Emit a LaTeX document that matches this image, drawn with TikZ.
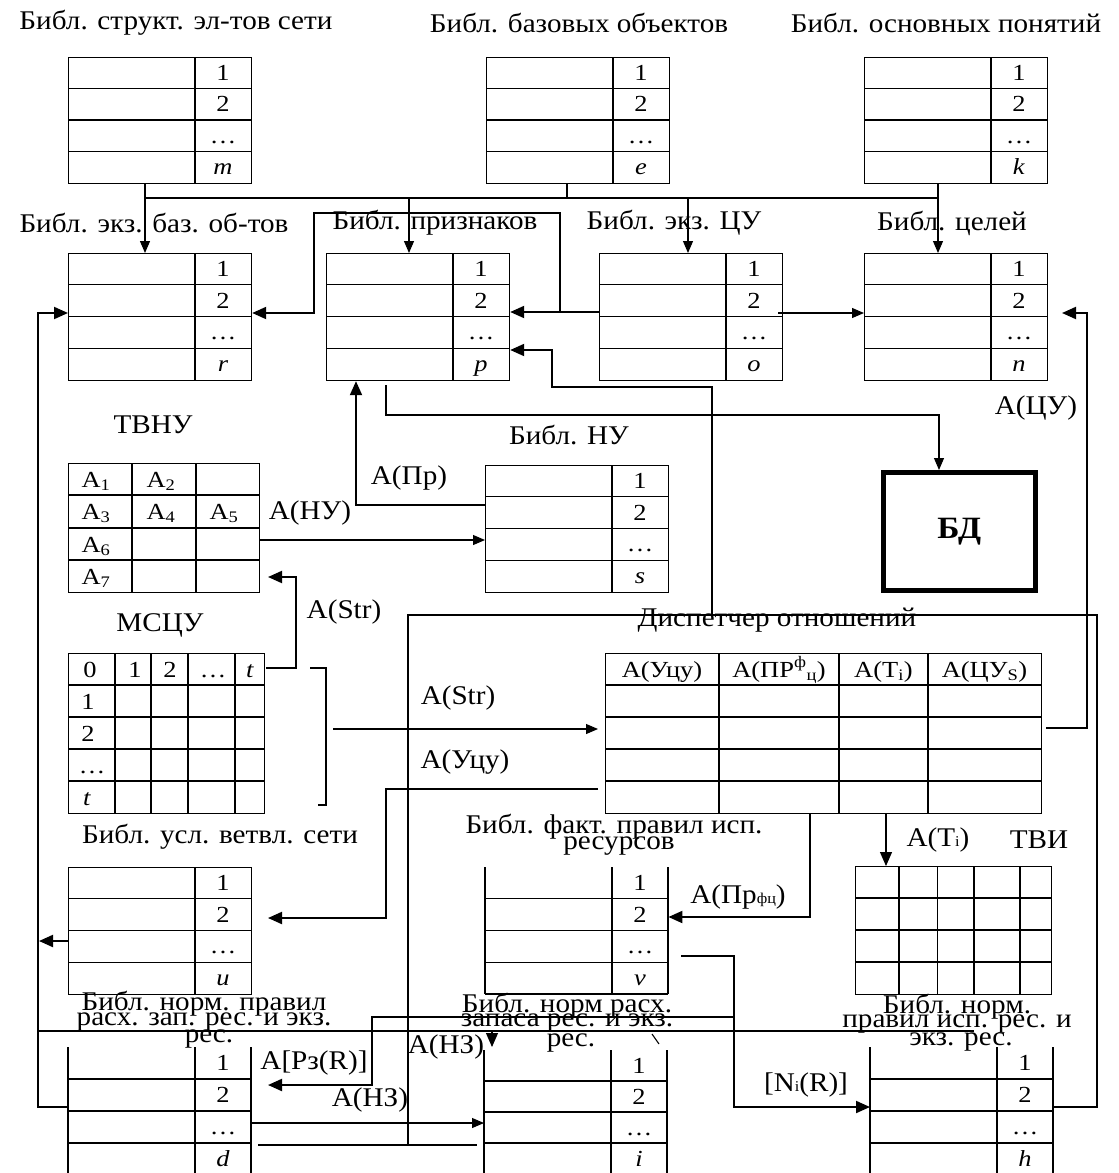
\documentclass[tikz,border=0pt]{standalone}
\usepackage{fontspec}
\setmainfont{Liberation Serif}[FakeStretch=1.08]
\newfontfamily\cellfont{Liberation Serif}[FakeStretch=1.15]
\usetikzlibrary{arrows.meta}
\newcommand\libT[5]{%
  \node[tb,draw,anchor=north west,minimum width=183pt,minimum height={4*#4*1pt},inner sep=0pt] (#1) at (#2,#3) {};
  \foreach \k in {1,2,3} \draw[tb] (#2,{#3+\k*#4}) -- ++(183,0);
  \draw[tb] ({#2+127},#3) -- ++(0,{4*#4});
  \node[cell] (#1-a) at ({#2+155},{#3+0.5*#4+7.5}) {1};
  \node[cell] (#1-b) at ({#2+155},{#3+1.5*#4+7.5}) {2};
  \node[cell] (#1-c) at ({#2+155},{#3+2.5*#4+7.5}) {\ldots};
  \node[cell] (#1-d) at ({#2+155},{#3+3.5*#4+7.5}) {#5};
}
\newcommand\libO[5]{%
  \node[anchor=north west,minimum width=183pt,minimum height={4*#4*1pt},inner sep=0pt] (#1) at (#2,#3) {};
  \foreach \k in {1,2,3,4} \draw[tb] (#2,{#3+\k*#4}) -- ++(183,0);
  \foreach \xx in {0,127,183} \draw[tb] ({#2+\xx},#3) -- ++(0,{4*#4});
  \node[cell] (#1-a) at ({#2+155},{#3+0.5*#4+7.5}) {1};
  \node[cell] (#1-b) at ({#2+155},{#3+1.5*#4+7.5}) {2};
  \node[cell] (#1-c) at ({#2+155},{#3+2.5*#4+7.5}) {\ldots};
  \node[cell] (#1-d) at ({#2+155},{#3+3.5*#4+7.5}) {#5};
}
\newcommand\sm[1]{{\fontsize{15}{15}\selectfont #1}}
\begin{document}
\begin{tikzpicture}[x=1pt,y=-1pt,
  lab/.style={font=\fontsize{27}{27}\selectfont, inner sep=0pt},
  cell/.style={font=\cellfont\fontsize{23}{23}\selectfont, inner sep=0pt, anchor=base},
  tb/.style={line width=1.2pt},
  thk/.style={line width=2pt},
  thn/.style={line width=1.1pt},
  arr/.style={-{Triangle[length=14pt,width=12pt]}},
  sarr/.style={-{Triangle[length=12pt,width=10pt]}},
]
\useasboundingbox (0,0) rectangle (1119,1173);

% ---- top row
\node[lab] (l1) at (176,23) {Библ. структ. эл-тов сети};
\node[lab] (l2) at (579,23) {Библ. базовых объектов};
\node[lab] (l3) at (946,23) {Библ. основных понятий};
\libT{T1}{68}{57}{31.5}{\textit{m}}
\libT{T2}{486}{57}{31.5}{\textit{e}}
\libT{T3}{864}{57}{31.5}{\textit{k}}

% ---- second row
\node[lab] (l4) at (154,223) {Библ. экз. баз. об-тов};
\node[lab] (l5) at (435,223) {Библ. признаков};
\node[lab] (l6) at (674,223) {Библ. экз. ЦУ};
\node[lab] (l7) at (952,223) {Библ. целей};
\libT{T4}{68}{253}{31.75}{\textit{r}}
\libT{T5}{326}{253}{31.75}{\textit{p}}
\libT{T6}{599}{253}{31.75}{\textit{o}}
\libT{T7}{864}{253}{31.75}{\textit{n}}

% ---- TVNU / NU / BD
\node[lab] (ltvnu) at (153,425) {ТВНУ};
\node[lab] (lnu) at (569,435) {Библ. НУ};
\libT{NU}{485}{465}{31.75}{\textit{s}}
\node[tb,draw,anchor=north west,minimum width=191pt,minimum height=129pt,inner sep=0pt] (TV) at (68,463) {};
\foreach \yy in {495,528,560} \draw[tb] (68,\yy) -- (259,\yy);
\foreach \xx in {132,196} \draw[tb] (\xx,463) -- (\xx,592);
\node[cell] (tv1) at (96,487) {A\textsubscript{1}};
\node[cell] (tv2) at (161,487) {A\textsubscript{2}};
\node[cell] (tv3) at (96,519) {A\textsubscript{3}};
\node[cell] (tv4) at (161,519) {A\textsubscript{4}};
\node[cell] (tv5) at (224,519) {A\textsubscript{5}};
\node[cell] (tv6) at (96,552) {A\textsubscript{6}};
\node[cell] (tv7) at (96,584) {A\textsubscript{7}};
\node[draw,line width=4.5pt,anchor=north west,minimum width=152pt,minimum height=118pt,inner sep=0pt,font=\bfseries\fontsize{31}{31}\selectfont] (BD) at (881,470) {БД};
\node[lab] (lpr) at (409,478) {А(Пр)};
\node[lab] (lnuA) at (310,513) {А(НУ)};
\node[lab] (lcu) at (1036,408) {А(ЦУ)};

% ---- MSCU
\node[lab] (lmscu) at (160,625) {МСЦУ};
\node[lab] (lstr1) at (344,612) {А(Str)};
\node[tb,draw,anchor=north west,minimum width=196pt,minimum height=160pt,inner sep=0pt] (MS) at (68,653) {};
\foreach \yy in {685,717,749,781} \draw[tb] (68,\yy) -- (264,\yy);
\foreach \xx in {115,151,188,235} \draw[tb] (\xx,653) -- (\xx,813);
\node[cell] (ms0) at (90,677) {0};
\node[cell] (ms1) at (135,677) {1};
\node[cell] (ms2) at (170,677) {2};
\node[cell] (ms3) at (213,677) {\ldots};
\node[cell] (ms4) at (250,677) {\textit{t}};
\node[cell] (ms5) at (88,709) {1};
\node[cell] (ms6) at (88,741) {2};
\node[cell] (ms7) at (92,773) {\ldots};
\node[cell] (ms8) at (87,805) {\textit{t}};

% ---- dispatcher
\node[lab] (ldisp) at (777,620) {Диспетчер отношений};
\node[tb,draw,anchor=north west,minimum width=436pt,minimum height=160pt,inner sep=0pt] (D) at (605,653) {};
\foreach \yy in {685,717,749,781} \draw[tb] (605,\yy) -- (1041,\yy);
\foreach \xx in {719,839,928} \draw[tb] (\xx,653) -- (\xx,813);
\node[cell] (dh1) at (662,677) {А(Уцу)};
\node[cell] (dh2) at (779,677) {А(ПР\textsuperscript{ф}\textsubscript{ц})};
\node[cell] (dh3) at (883.5,677) {А(T\textsubscript{i})};
\node[cell] (dh4) at (984.5,677) {А(ЦУ\textsubscript{S})};
\node[lab] (lstr2) at (458,698) {А(Str)};
\node[lab] (lucu) at (465,762) {А(Уцу)};

% ---- third block
\node[lab] (lusl) at (220,837) {Библ. усл. ветвл. сети};
\libT{T8}{68}{867}{31.75}{\textit{u}}
\node[lab] (lf1) at (614,827) {Библ. факт. правил исп.};
\node[lab] (lf2) at (619,846) {ресурсов};
\libO{T10}{485}{867}{31.75}{\textit{v}}
\node[lab] (lprf) at (738,897) {А(Пр\sm{фц})};
\node[lab] (lti) at (938,840) {А(T\sm{i})};
\node[lab] (ltvi) at (1039,840) {ТВИ};
\node[tb,draw,anchor=north west,minimum width=196pt,minimum height=128pt,inner sep=0pt] (TVI) at (855,866) {};
\foreach \yy in {898,930,962} \draw[tb] (855,\yy) -- (1051,\yy);
\foreach \xx in {899,937.5,974,1020} \draw[tb] (\xx,866) -- (\xx,994);

% ---- bottom block
\node[lab] (lb1) at (204,1004) {Библ. норм. правил};
\node[lab] (lb2) at (204,1022) {расх. зап. рес. и экз.};
\node[lab] (lb3) at (209,1039) {рес.};
\node[lab] (lc1) at (567,1006) {Библ. норм расх.};
\node[lab] (lc2) at (567,1023) {запаса рес. и экз.};
\node[lab] (lc3) at (571,1043) {рес.};
\node[lab] (ld1) at (957,1007) {Библ. норм.};
\node[lab] (ld2) at (957,1024) {правил исп. рес. и};
\node[lab] (ld3) at (961,1042) {экз. рес.};
\libO{T9}{68}{1047}{32}{\textit{d}}
\libO{T11}{484}{1050}{31}{\textit{i}}
\libO{T12}{870}{1047}{32}{\textit{h}}
\node[lab] (lpz) at (314,1063) {А[Pз(R)]};
\node[lab] (lnz1) at (446,1047) {А(НЗ)};
\node[lab] (lnz2) at (370,1100) {А(НЗ)};
\node[lab] (lni) at (806,1085) {[N\sm{i}(R)]};

% ================= connectors
% bus from top libraries
\draw[thn] (145,198) -- (938,198);
\draw[thn,sarr] (T1.south -| 145,0) -- (T4.north -| 145,0);
\draw[thn] (T2.south -| 567,0) -- (567,198);
\draw[thn,sarr] (T3.south -| 938,0) -- (T7.north -| 938,0);
\draw[thn,sarr] (409,198) -- (T5.north -| 409,0);
\draw[thn,sarr] (688,198) -- (T6.north -| 688,0);
% T6 -> T5, T4
\draw[thk,arr] (T6.west |- 0,312) -- (T5.east |- 0,312);
\draw[thk,arr] (560,312) -- (560,213) -- (314,213) -- (314,313) -- (T4.east |- 0,313);
% T6 -> T7
\draw[thn,sarr] (778,313) -- (T7.west |- 0,313);
% dispatcher -> T7  A(ЦУ)
\draw[thk,arr] (1046,728) -- (1087,728) -- (1087,313) -- (1062,313);
% left loop
\draw[thk,arr] (T9.west |- 0,1107) -- (38,1107) -- (38,313) -- (T4.west |- 0,313);
\draw[thk,arr] (T8.west |- 0,941) -- (39,941);
\draw[thn] (38,1031) -- (974,1031);
\draw[thn,arr] (492,1031) -- (492,1047);
\draw[thn] (652,1034) -- (659,1044);
% T5 -> BD
\draw[thn,sarr] (386,385) -- (386,415) -- (939,415) -- (BD.north -| 939,0);
% bottom -> T5
\draw[thk,arr] (712,615) -- (712,387) -- (552,387) -- (552,350) -- (T5.east |- 0,350);
\draw[thk] (408,1145) -- (408,615) -- (1097,615) -- (1097,1107) -- (T12.east |- 0,1107);
\draw[thk] (258,1145) -- (477,1145);
% A(Пр)
\draw[thk,arr] (NU.west |- 0,505) -- (356,505) -- (T5.south -| 356,0);
% TVNU -> NU
\draw[thn,sarr] (TV.east |- 0,540) -- (NU.west |- 0,540);
% A(Str) up
\draw[thk,arr] (266,668) -- (296,668) -- (296,577) -- (268,577);
% bracket
\draw[thn] (310,668) -- (326,668) -- (326,805) -- (318,805);
% A(Str) -> dispatcher
\draw[thn,sarr] (333,729) -- (598,729);
% A(Уцу)
\draw[thk,arr] (598,789) -- (386,789) -- (386,918) -- (268,918);
% A(Прфц)
\draw[thk,arr] (D.south -| 810,0) -- (810,917) -- (T10.east |- 0,917);
% A(Ti)
\draw[thn,arr] (D.south -| 886,0) -- (TVI.north -| 886,0);
% T10 -> T12
\draw[thk,arr] (681,956) -- (734,956) -- (734,1107) -- (T12.west |- 0,1107);
\draw[thk,arr] (734,1017) -- (372,1017) -- (372,1085) -- (268,1085);
% T9 -> T11
\draw[thn,sarr] (252,1123) -- (T11.west |- 0,1123);
\end{tikzpicture}
\end{document}
